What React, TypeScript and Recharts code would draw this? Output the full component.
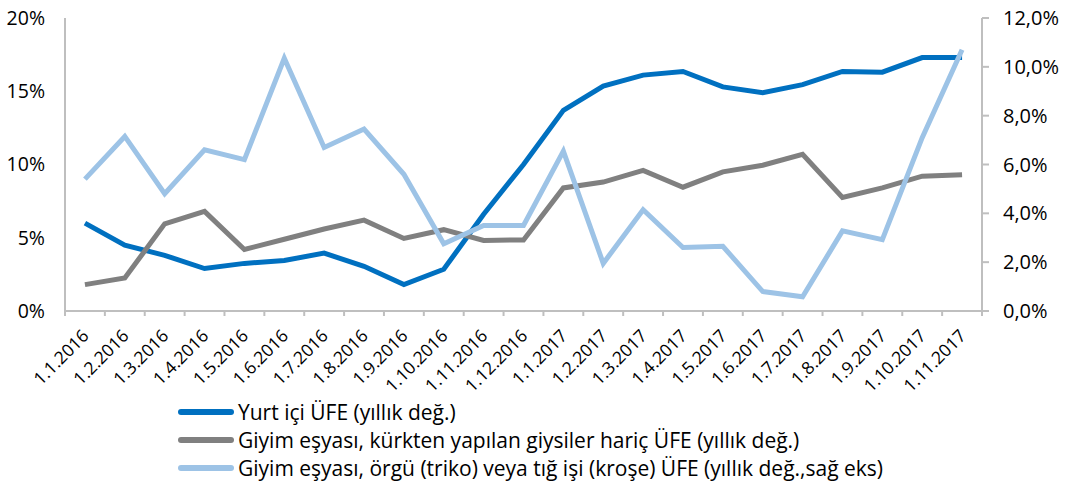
import React from 'react';
import { LineChart, Line, XAxis, YAxis } from 'recharts';

const months = [
  '1.1.2016', '1.2.2016', '1.3.2016', '1.4.2016', '1.5.2016', '1.6.2016',
  '1.7.2016', '1.8.2016', '1.9.2016', '1.10.2016', '1.11.2016', '1.12.2016',
  '1.1.2017', '1.2.2017', '1.3.2017', '1.4.2017', '1.5.2017', '1.6.2017',
  '1.7.2017', '1.8.2017', '1.9.2017', '1.10.2017', '1.11.2017',
];

// Yurt içi ÜFE (left axis, %)
const domesticPpi = [
  6.0, 4.5, 3.8, 2.9, 3.25, 3.45, 3.95, 3.05, 1.8, 2.85, 6.6, 10.0,
  13.7, 15.35, 16.1, 16.35, 15.3, 14.9, 15.45, 16.35, 16.3, 17.3, 17.3,
];

// Giyim eşyası, kürkten yapılan giysiler hariç (left axis, %)
const apparelPpi = [
  1.8, 2.25, 5.95, 6.8, 4.2, 4.9, 5.6, 6.2, 4.95, 5.55, 4.82, 4.85,
  8.4, 8.8, 9.6, 8.45, 9.5, 9.95, 10.7, 7.75, 8.4, 9.2, 9.3,
];

// Örgü / tığ işi (right axis, %)
const knitPpi = [
  5.4, 7.15, 4.8, 6.6, 6.2, 10.35, 6.7, 7.45, 5.6, 2.75, 3.5, 3.5,
  6.55, 1.95, 4.15, 2.6, 2.65, 0.8, 0.58, 3.28, 2.92, 7.1, 10.7,
];

const leftTicks = [0, 5, 10, 15, 20];
const rightTicks = [0, 2, 4, 6, 8, 10, 12];

const data = months.map((m, i) => ({
  month: m,
  domestic: domesticPpi[i],
  apparel: apparelPpi[i],
  knit: knitPpi[i],
}));

const WIDTH = 1070;
const HEIGHT = 400;
const LEFT_W = 65;
const RIGHT_W = 88;
const PLOT_TOP = 18;
const PLOT_BOTTOM = 311;
const BAND = (WIDTH - LEFT_W - RIGHT_W) / months.length;
const AXIS_COLOR = '#BFBFBF';
const FONT = '"Open Sans", sans-serif';

const series = [
  { key: 'domestic', color: '#0070C0', label: 'Yurt içi ÜFE (yıllık değ.)' },
  { key: 'apparel', color: '#808080', label: 'Giyim eşyası, kürkten yapılan giysiler hariç ÜFE (yıllık değ.)' },
  { key: 'knit', color: '#9DC3E6', label: 'Giyim eşyası, örgü (triko) veya tığ işi (kroşe) ÜFE (yıllık değ.,sağ eks)' },
];

function MonthTick(props: any) {
  const { x, payload, index } = props;
  const left = x - BAND / 2;
  const ax = x + 5;
  const ay = PLOT_BOTTOM + 26;
  return (
    <g>
      <line x1={left} x2={left} y1={PLOT_BOTTOM} y2={PLOT_BOTTOM + 5} stroke={AXIS_COLOR} strokeWidth={2} />
      {index === months.length - 1 && (
        <line x1={left + BAND} x2={left + BAND} y1={PLOT_BOTTOM} y2={PLOT_BOTTOM + 5} stroke={AXIS_COLOR} strokeWidth={2} />
      )}
      <text
        x={ax}
        y={ay}
        textAnchor="end"
        fontSize={17.5}
        fontFamily={FONT}
        fill="#000"
        transform={`rotate(-45, ${ax}, ${ay})`}
      >
        {payload.value}
      </text>
    </g>
  );
}

export default function App() {
  return (
    <div style={{ position: 'absolute', left: 0, top: 0, width: WIDTH, height: 489, background: '#fff', fontFamily: FONT }}>
      <LineChart width={WIDTH} height={HEIGHT} data={data} margin={{ top: PLOT_TOP, right: 0, bottom: 0, left: 0 }}>
        <XAxis
          dataKey="month"
          interval={0}
          height={HEIGHT - PLOT_BOTTOM}
          padding={{ left: BAND / 2, right: BAND / 2 }}
          tickLine={false}
          axisLine={{ stroke: AXIS_COLOR, strokeWidth: 2 }}
          tick={<MonthTick />}
        />
        <YAxis
          yAxisId="left"
          width={LEFT_W}
          domain={[0, 20]}
          ticks={leftTicks}
          tickFormatter={(v: number) => `${v}%`}
          tickLine={false}
          tickMargin={14}
          axisLine={{ stroke: AXIS_COLOR, strokeWidth: 2 }}
          tick={{ fontSize: 19.5, fill: '#000', fontFamily: FONT }}
        />
        <YAxis
          yAxisId="right"
          orientation="right"
          width={RIGHT_W}
          domain={[0, 12]}
          ticks={rightTicks}
          tickFormatter={(v: number) => `${v.toFixed(1).replace('.', ',')}%`}
          tickSize={7}
          tickMargin={14}
          tickLine={{ stroke: AXIS_COLOR, strokeWidth: 2 }}
          axisLine={{ stroke: AXIS_COLOR, strokeWidth: 2 }}
          tick={{ fontSize: 20, fill: '#000', fontFamily: FONT }}
        />
        <Line yAxisId="left" dataKey="domestic" stroke="#0070C0" strokeWidth={5} dot={false} isAnimationActive={false} />
        <Line yAxisId="left" dataKey="apparel" stroke="#808080" strokeWidth={5} dot={false} isAnimationActive={false} />
        <Line yAxisId="right" dataKey="knit" stroke="#9DC3E6" strokeWidth={5} dot={false} isAnimationActive={false} />
      </LineChart>
      <div style={{ position: 'absolute', left: 178, top: 398 }}>
        {series.map((s) => (
          <div key={s.key} style={{ display: 'flex', alignItems: 'center', height: 28 }}>
            <div style={{ width: 56, height: 6, borderRadius: 3, background: s.color, marginRight: 4 }} />
            <span style={{ fontSize: 21, lineHeight: '28px', color: '#000', whiteSpace: 'nowrap' }}>{s.label}</span>
          </div>
        ))}
      </div>
    </div>
  );
}
